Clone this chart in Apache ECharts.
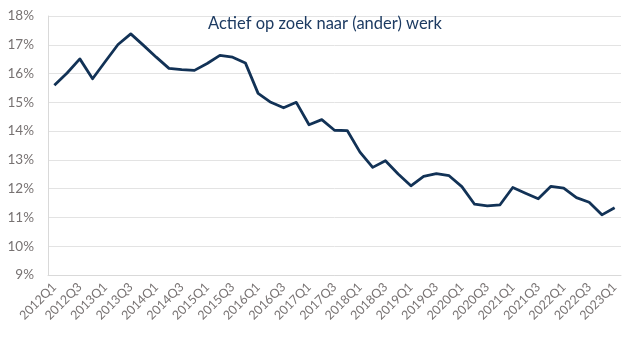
<!DOCTYPE html>
<html>
<head>
<meta charset="utf-8">
<script src="https://cdn.jsdelivr.net/npm/echarts@6/dist/echarts.min.js"></script>
<style>html,body{margin:0;padding:0;background:#fff}#c{width:640px;height:339px}</style>
</head>
<body>
<div id="c"></div>
<script>
const title = "Actief op zoek naar (ander) werk";
const categories = [];
for (let y = 2012; y <= 2023; y++) { for (let q = 1; q <= 4; q++) { if (y === 2023 && q > 1) break; categories.push(y + "Q" + q); } }
const values = [15.59, 16.02, 16.51, 15.82, 16.42, 17.01, 17.38, 16.98, 16.57, 16.18,
  16.14, 16.11, 16.35, 16.63, 16.57, 16.37, 15.31, 15.0, 14.81, 15.0,
  14.22, 14.40, 14.03, 14.02, 13.27, 12.74, 12.97, 12.51, 12.10, 12.43,
  12.52, 12.45, 12.07, 11.46, 11.40, 11.44, 12.04, 11.84, 11.65, 12.08,
  12.02, 11.69, 11.53, 11.09, 11.34];
const yMin = 9, yMax = 18, yStep = 1;

const chart = echarts.init(document.getElementById('c'));
chart.setOption({
  animation: false,
  title: {
    text: title, left: 320, top: 10, textAlign: 'center',
    textStyle: { fontFamily: 'Lato', fontSize: 16.5, fontWeight: 'normal', color: '#1d3b62' }
  },
  grid: { left: 48, right: 19, top: 16, bottom: 64, containLabel: false },
  xAxis: {
    type: 'category', data: categories, boundaryGap: true,
    axisLine: { show: true, lineStyle: { color: '#d9d9d9', width: 1 } },
    axisTick: { show: false },
    axisLabel: {
      interval: 1, rotate: 45, color: '#777272', fontFamily: 'Lato', fontSize: 12.5, margin: 10
    }
  },
  yAxis: {
    type: 'value', min: yMin, max: yMax, interval: yStep,
    axisLine: { show: true, lineStyle: { color: '#d9d9d9', width: 1 } },
    axisTick: { show: false },
    splitLine: { lineStyle: { color: '#e3e3e3', width: 1 } },
    axisLabel: { formatter: v => v + '%', color: '#777272', fontFamily: 'Lato', fontSize: 13.5, margin: 14 }
  },
  series: [{
    type: 'line', data: values, symbol: 'none',
    lineStyle: { color: '#123256', width: 2.8, join: 'round' }
  }]
});
</script>
</body>
</html>
